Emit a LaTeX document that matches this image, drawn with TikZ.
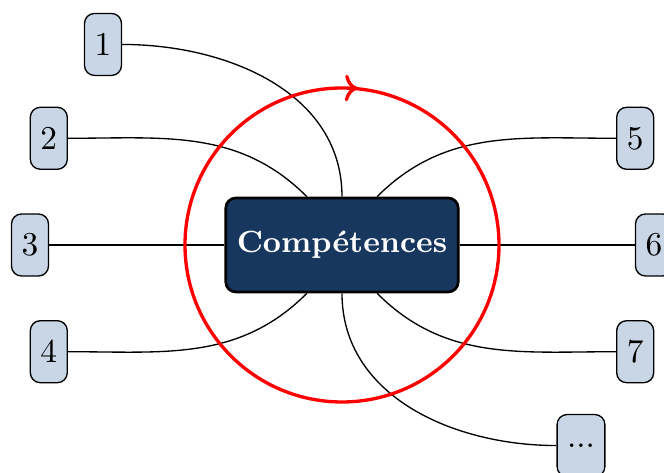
\documentclass[tikz,border=0pt]{standalone}
\usepackage{fontspec}
\usepackage{tikz}
\usetikzlibrary{positioning}
\usetikzlibrary{arrows.meta}
\usetikzlibrary{decorations.markings}
\definecolor{darkblue}{RGB}{23,55,94}
\definecolor{lightblue}{RGB}{200,214,230}

\begin{document}
\begin{tikzpicture}[x=0.3pt, y=0.3pt,
    theme/.style={draw, thick, rounded corners=3pt, fill=darkblue, text=white, font=\fontsize{9.2}{11}\selectfont\bfseries, inner xsep=3.3pt, minimum width=68.4pt, minimum height=28.2pt},
    item/.style={draw, rounded corners=3pt, fill=lightblue, inner xsep=3pt, minimum width=11.1pt, minimum height=18.6pt}]

      \useasboundingbox (-342,-228) rectangle (322,245);

      \node[theme] (c) at (0,0) {Compétences};

      % items round the theme
      \foreach \n/\a in {1/140, 2/160, 3/180, 4/200, 5/20, 6/0, 7/-20}
        \node[item] (s\n) at (\a:312) {\n};
      \node[item] (s8) at (-40:312) {...};

      \draw (c.north) to[out=90, in=0] (s1.east);
      \draw (c.126) to[out=135, in=0] (s2.east);
      \draw (c.west) -- (s3.east);
      \draw (c.234) to[out=-135, in=0] (s4.east);
      \draw (c.54) to[out=45, in=180] (s5.west);
      \draw (c.east) -- (s6.west);
      \draw (c.-54) to[out=-45, in=180] (s7.west);
      \draw (c.south) to[out=-90, in=180] (s8.west);

      \draw[red, line width=1pt, decoration={markings, mark=at position 0.247 with {\arrow{<}}}, postaction={decorate}] (c.center) circle (47.1pt);

  \end{tikzpicture}
\end{document}
